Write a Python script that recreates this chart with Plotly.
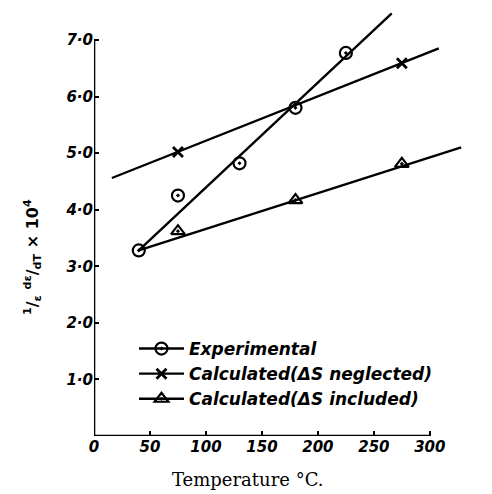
import plotly.graph_objects as go

# ---- data ----
exp_t = [40, 75, 130, 180, 225]
exp_v = [3.28, 4.25, 4.82, 5.80, 6.77]
exp_line_t = [40, 266]
exp_line_v = [3.28, 7.47]

neg_t = [75, 275]
neg_v = [5.02, 6.59]
neg_line_t = [16, 308]
neg_line_v = [4.56, 6.85]

inc_t = [75, 180, 275]
inc_v = [3.62, 4.17, 4.81]
inc_line_t = [40, 328]
inc_line_v = [3.28, 5.10]

x_ticks = [0, 50, 100, 150, 200, 250, 300]
x_ticktext = ["0", "50", "100", "150", "200", "250", "300"]
y_ticks = [1, 2, 3, 4, 5, 6, 7]
y_ticktext = ["1·0", "2·0", "3·0", "4·0", "5·0", "6·0", "7·0"]

names = ["Experimental", "Calculated(ΔS neglected)", "Calculated(ΔS included)"]

BLACK = "black"
LW = 2.4
tickfont = dict(family="DejaVu Sans", size=15, color=BLACK, style="italic", weight="bold")

fig = go.Figure()

# fitted lines
for lt, lv in [(exp_line_t, exp_line_v), (neg_line_t, neg_line_v), (inc_line_t, inc_line_v)]:
    fig.add_trace(go.Scatter(x=lt, y=lv, mode="lines", line=dict(color=BLACK, width=LW),
                             showlegend=False, hoverinfo="skip"))

# markers
styles = [
    dict(symbol="circle-open-dot", size=12, color=BLACK, line=dict(width=2.2, color=BLACK)),
    dict(symbol="x-thin", size=10, color=BLACK, line=dict(width=2.8, color=BLACK)),
    dict(symbol="triangle-up-open-dot", size=12, color=BLACK, line=dict(width=2.2, color=BLACK)),
]
for (t, v), st in zip([(exp_t, exp_v), (neg_t, neg_v), (inc_t, inc_v)], styles):
    fig.add_trace(go.Scatter(x=t, y=v, mode="markers", marker=st, showlegend=False))

# legend entries
for name, st in zip(names, styles):
    fig.add_trace(go.Scatter(x=[None], y=[None], mode="lines+markers", name=name,
                             marker=st, line=dict(color=BLACK, width=LW)))

# axis lines
fig.add_shape(type="line", xref="x", yref="y", x0=0, x1=300, y0=0, y1=0,
              line=dict(color=BLACK, width=2.6))
fig.add_shape(type="line", xref="x", yref="y", x0=0, x1=0, y0=0, y1=7,
              line=dict(color=BLACK, width=2.6))

fig.update_xaxes(range=[0, 335], showline=False, showgrid=False, zeroline=False,
                 tickmode="array", tickvals=x_ticks, ticktext=x_ticktext,
                 ticks="inside", ticklen=5, tickwidth=2, tickcolor=BLACK,
                 tickfont=tickfont, ticklabelstandoff=0)
fig.update_yaxes(range=[0, 7.6], showline=False, showgrid=False, zeroline=False,
                 tickmode="array", tickvals=y_ticks, ticktext=y_ticktext,
                 ticks="inside", ticklen=5, tickwidth=2, tickcolor=BLACK,
                 tickfont=tickfont)

fig.add_annotation(text="Temperature °C.", xref="paper", yref="paper",
                   x=(248 - 94) / 375.2, y=(436 - 479) / 430, showarrow=False,
                   xanchor="center", yanchor="middle",
                   font=dict(family="DejaVu Serif", size=18, color=BLACK))
fig.add_annotation(text="<sup>1</sup>/<sub>ε</sub> <sup>dε</sup>/<sub>dT</sub> × 10<sup>4</sup>",
                   xref="paper", yref="paper", x=(32 - 94) / 375.2, y=(436 - 257) / 430,
                   textangle=-90, showarrow=False, xanchor="center", yanchor="middle",
                   font=dict(family="DejaVu Sans", size=16, color=BLACK, weight="bold"))

fig.update_layout(
    width=492, height=494,
    margin=dict(l=94, r=23, t=6, b=58),
    paper_bgcolor="white", plot_bgcolor="white",
    legend=dict(x=(134 - 94) / 375.2, y=(436 - 331) / 430, xanchor="left", yanchor="top",
                bgcolor="rgba(0,0,0,0)", itemwidth=45, tracegroupgap=0,
                font=dict(family="DejaVu Sans", size=17, color=BLACK, style="italic", weight="bold")),
)

fig.write_html("out.html", config={"displayModeBar": False},
               post_script="document.body.style.margin='0';")
